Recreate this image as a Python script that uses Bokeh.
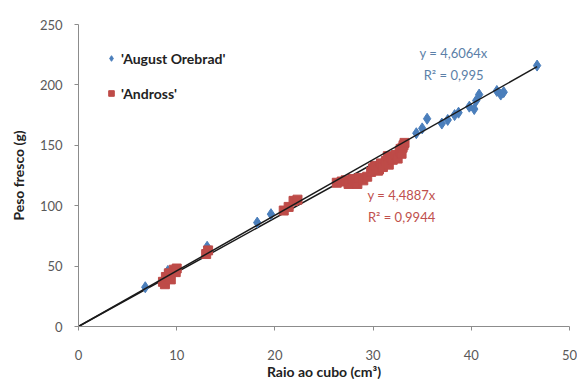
from bokeh.plotting import figure
from bokeh.models import Legend, LegendItem, Label, Range1d, FixedTicker
from bokeh.embed import file_html
from bokeh.resources import INLINE

# 'August Orebrad' (blue diamonds)
blue_x = [6.8, 9.1, 13.1, 18.2, 19.6, 34.4, 35.0, 35.5, 37.0, 37.6, 38.3, 38.7,
          39.8, 40.3, 40.5, 40.8, 42.6, 43.0, 43.3, 46.7]
blue_y = [32.5, 46, 66, 86, 93, 160, 164, 172, 168, 171, 175, 177,
          182, 180, 187, 192, 195, 192, 194, 216]
# 'Andross' (red squares)
red_x = [8.6, 8.8, 8.9, 9.2, 9.4, 9.7, 9.9, 10.0, 13.0, 13.2, 20.9, 21.4, 21.9, 22.3,
         26.3, 26.8, 27.2, 27.5, 27.9, 28.2, 28.4, 28.6, 29.0, 29.4, 29.8, 30.0, 30.2,
         30.5, 30.6, 30.8, 31.0, 31.3, 31.5, 31.6, 31.8, 32.0, 32.3, 32.5, 32.7, 32.8,
         32.9, 33.0, 33.1, 33.2]
red_y = [37, 35, 41, 44, 39, 47, 45, 48, 60, 63, 96, 99, 104, 105,
         119, 120, 121, 118, 122, 120, 118, 123, 121, 124, 128, 131, 133,
         129, 130, 135, 132, 137, 141, 134, 140, 138, 142, 139, 145, 147,
         143, 148, 150, 152]
blue_slope = 4.6064
red_slope = 4.4887
blue_eq = ["y = 4,6064x", "R\u00b2 = 0,995"]
red_eq = ["y = 4,4887x", "R\u00b2 = 0,9944"]
x_ticks = [0, 10, 20, 30, 40, 50]
y_ticks = [0, 50, 100, 150, 200, 250]

BLUE = "#4A7EBB"
RED = "#BE4B48"
FONT = "Lato"

p = figure(output_backend="svg", toolbar_location=None,
           frame_width=491, frame_height=302,
           min_border_left=78, min_border_top=24, min_border_right=8, min_border_bottom=45,
           x_range=Range1d(0, 50), y_range=Range1d(0, 250))
p.outline_line_color = None
p.grid.grid_line_color = None
p.background_fill_color = "white"
p.border_fill_color = "white"

for ax in (p.xaxis[0], p.yaxis[0]):
    ax.axis_line_color = "#8C8C8C"
    ax.major_tick_line_color = "#8C8C8C"
    ax.major_tick_out = 4
    ax.major_tick_in = 0
    ax.minor_tick_line_color = None
    ax.major_label_text_font = FONT
    ax.major_label_text_font_size = "13px"
    ax.major_label_text_color = "#595959"
    ax.axis_label_text_font = FONT
    ax.axis_label_text_font_size = "14px"
    ax.axis_label_text_font_style = "bold"
    ax.axis_label_text_color = "#222222"

p.xaxis.ticker = FixedTicker(ticks=x_ticks)
p.yaxis.ticker = FixedTicker(ticks=y_ticks)
p.xaxis.axis_label = "Raio ao cubo (cm\u00b3)"
p.yaxis.axis_label = "Peso fresco (g)"
p.xaxis.major_label_standoff = 19
p.xaxis.axis_label_standoff = 0
p.yaxis.major_label_standoff = 12
p.yaxis.axis_label_standoff = 10

bx_max = max(blue_x)
rx_max = max(red_x)
p.line([0, rx_max], [0, red_slope * rx_max], line_color="#1a1a1a", line_width=1.5)

rb = p.scatter(blue_x, blue_y, marker="diamond", size=11, fill_color=BLUE, line_color=BLUE)
rr = p.scatter(red_x, red_y, marker="square", size=9, fill_color=RED, line_color=RED)

p.line([0, bx_max], [0, blue_slope * bx_max], line_color="#1a1a1a", line_width=1.5)

legend = Legend(items=[LegendItem(label="'August Orebrad'", renderers=[rb]),
                       LegendItem(label="'Andross'", renderers=[rr])],
                location=(26, 223), orientation="vertical")
legend.border_line_color = None
legend.background_fill_alpha = 0
legend.padding = 5
legend.spacing = 15
legend.glyph_width = 14
legend.glyph_height = 20
legend.label_height = 20
legend.label_standoff = 3
legend.label_text_font = FONT
legend.label_text_font_size = "14px"
legend.label_text_font_style = "bold"
legend.label_text_color = "#222222"
p.add_layout(legend, "center")

for txt, yy in zip(blue_eq, [226, 208]):
    p.add_layout(Label(x=38.2, y=yy, text=txt, text_align="center", text_baseline="middle",
                       text_font=FONT, text_font_size="13px", text_color="#5B7FA8"))
for txt, yy in zip(red_eq, [108.5, 90.5]):
    p.add_layout(Label(x=32.9, y=yy, text=txt, text_align="center", text_baseline="middle",
                       text_font=FONT, text_font_size="13px", text_color="#C0504D"))

open("out.html", "w").write(file_html(p, INLINE))
